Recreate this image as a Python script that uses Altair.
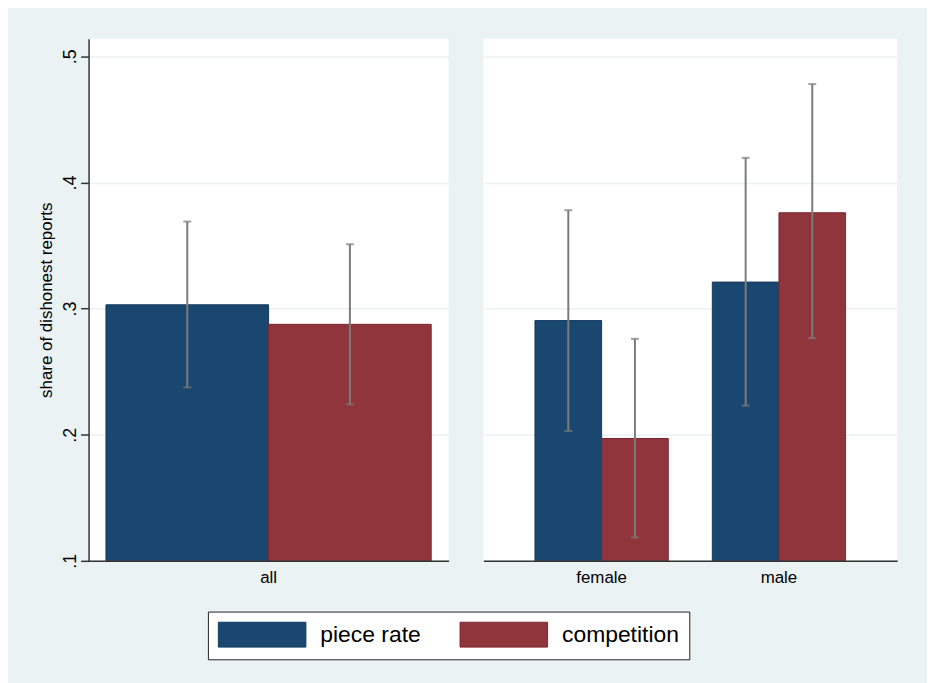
import altair as alt
import pandas as pd

# ---- data ----
groups = ["all", "all", "female", "female", "male", "male"]
panels = ["all", "all", "gender", "gender", "gender", "gender"]
series = ["piece rate", "competition", "piece rate", "competition", "piece rate", "competition"]
means = [0.303, 0.2875, 0.2905, 0.197, 0.321, 0.376]
lows = [0.2375, 0.224, 0.203, 0.1185, 0.223, 0.2765]
highs = [0.369, 0.351, 0.378, 0.276, 0.4195, 0.478]

series_order = ["piece rate", "competition"]
y_ticks = [0.1, 0.2, 0.3, 0.4, 0.5]

df = pd.DataFrame({"group": groups, "panel": panels, "series": series,
                   "mean": means, "lo": lows, "hi": highs})

BLUE = "#1a476f"
RED = "#90353b"
BG = "#EAF2F3"
ERR = "#7b7b7b"
FONT = "Liberation Sans"

y_scale = alt.Scale(domain=[0.1, 0.514], nice=False, zero=False)


def panel(data, width, x_scale, left_axis):
    if left_axis:
        yax = alt.Axis(values=y_ticks, labelExpr="substring(format(datum.value, '.1f'), 1)",
                       labelAngle=270, labelAlign="center", labelBaseline="alphabetic",
                       labelPadding=5, labelFontSize=18, tickSize=8, tickWidth=1.5,
                       tickColor="#333333", domainColor="#333333", domainWidth=1.5,
                       grid=True, gridColor=BG, gridWidth=1.5,
                       title="share of dishonest reports", titleFontSize=17,
                       titleFontWeight="normal", titlePadding=6, titleColor="black")
    else:
        yax = alt.Axis(values=y_ticks, labels=False, ticks=False, domain=False,
                       grid=True, gridColor=BG, gridWidth=1.5, title=None)
    xax = alt.Axis(labelAngle=0, ticks=False, domain=True, domainColor="#333333",
                   domainWidth=1.5, labelFontSize=17, labelPadding=9, labelColor="black",
                   zindex=1, title=None)
    x = alt.X("group:N", scale=x_scale, axis=xax, title=None)
    xo = alt.XOffset("series:N", sort=series_order,
                     scale=alt.Scale(domain=series_order, paddingInner=0, paddingOuter=0))
    base = alt.Chart(data).encode(x=x, xOffset=xo)
    bars = base.mark_bar(strokeWidth=1).encode(
        y=alt.Y("mean:Q", scale=y_scale, axis=yax, title="share of dishonest reports" if left_axis else None),
        y2=alt.datum(0.1),
        color=alt.Color("series:N", sort=series_order,
                        scale=alt.Scale(domain=series_order, range=[BLUE, RED]),
                        legend=alt.Legend(title=None, orient="none", legendX=120, legendY=576,
                                          direction="horizontal",
                                          symbolType="M-1,-1L6.04,-1L6.04,1L-1,1Z",
                                          symbolSize=625, symbolStrokeWidth=1,
                                          symbolStrokeColor="#333333",
                                          labelFontSize=23, labelFont=FONT, labelColor="black",
                                          labelOffset=77, columnPadding=36, padding=10,
                                          strokeColor="#222222", fillColor="white")),
        stroke=alt.Stroke("series:N", sort=series_order,
                          scale=alt.Scale(domain=series_order, range=["#14395c", "#7c2730"]),
                          legend=None),
    )
    rules = base.mark_rule(color=ERR, strokeWidth=2).encode(
        y=alt.Y("lo:Q", scale=y_scale), y2="hi:Q")
    cap_hi = base.mark_tick(color=ERR, size=8, thickness=2).encode(y=alt.Y("hi:Q", scale=y_scale))
    cap_lo = base.mark_tick(color=ERR, size=8, thickness=2).encode(y=alt.Y("lo:Q", scale=y_scale))
    return alt.layer(bars, rules, cap_hi, cap_lo).properties(width=width, height=525)


left = panel(df[df.panel == "all"], 362,
             alt.Scale(domain=["all"], paddingInner=0, paddingOuter=0.0535), True)
right = panel(df[df.panel == "gender"], 416,
              alt.Scale(domain=["female", "male"], paddingInner=0.2485, paddingOuter=0.2908), False)

chart = alt.hconcat(left, right, spacing=35).resolve_scale(
    x="independent", xOffset="independent", y="shared", color="shared", stroke="shared"
).properties(
    background=BG,
    padding={"left": 30, "top": 29, "right": 30, "bottom": 21},
).configure_view(fill="white", strokeWidth=0).configure_axis(
    labelFont=FONT, titleFont=FONT
).configure_legend(labelFont=FONT)

chart.save("out.html", embed_options={"renderer": "svg", "actions": False})
